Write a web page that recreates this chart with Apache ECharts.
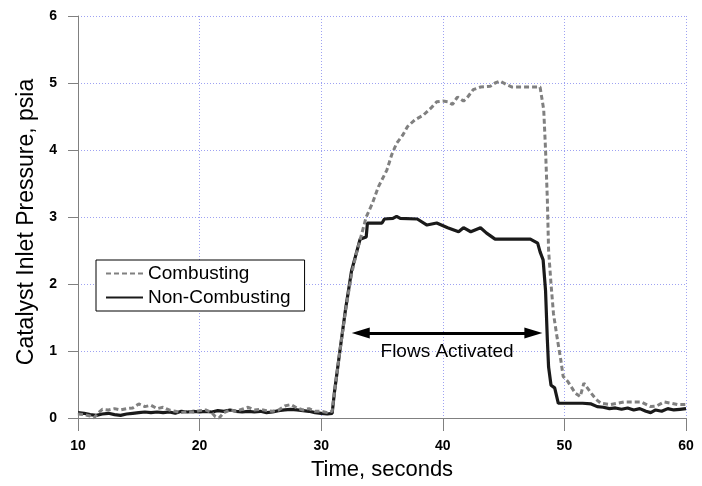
<!DOCTYPE html>
<html>
<head>
<meta charset="utf-8">
<script src="https://cdn.jsdelivr.net/npm/echarts@6/dist/echarts.min.js"></script>
<style>
html,body{margin:0;padding:0;background:#fff;}
#c{width:702px;height:486px;}
</style>
</head>
<body>
<div id="c"></div>
<script>
// ---- data ----
const xTicks = [10, 20, 30, 40, 50, 60];
const yTicks = [0, 1, 2, 3, 4, 5, 6];
const seriesNames = ['Combusting', 'Non-Combusting'];

const combTime = [10, 10.5, 11, 11.3, 11.7, 12, 12.5, 13, 13.5, 14, 14.5, 15, 15.5, 16, 16.5, 17, 17.5, 18, 18.5, 19, 19.5, 20, 20.5, 21, 21.3, 21.6, 22, 22.5, 23, 23.5, 24, 24.5, 25, 25.5, 26, 26.5, 27, 27.5, 28, 28.5, 29, 29.5, 30, 30.5, 30.9,
  31.1, 31.5, 32.0, 32.5, 32.9, 33.2, 33.7, 34.2, 34.7, 35.4, 35.8, 36.2, 36.7, 37.1, 37.7, 38.4, 39.1, 39.5, 40.0, 40.4, 40.8, 41.2, 41.7, 42.0, 42.5, 43.1, 43.9, 44.3, 44.7, 45.3, 45.7, 46.5, 47.3, 48.0,
  48.3, 48.45, 48.6, 48.7, 48.9, 49.1, 49.4, 49.7, 49.9, 50.3, 50.9, 51.3, 51.6, 52.2, 52.6, 53.0, 53.8, 54.9, 55.5, 56.3, 57.1, 57.6, 58.2, 58.8, 59.3, 60];
const combVals = [0.06, 0.05, 0.03, 0.0, 0.08, 0.13, 0.12, 0.14, 0.12, 0.14, 0.15, 0.21, 0.17, 0.19, 0.14, 0.16, 0.12, 0.1, 0.08, 0.1, 0.09, 0.11, 0.12, 0.08, 0.02, 0.0, 0.08, 0.12, 0.1, 0.13, 0.16, 0.12, 0.13, 0.11, 0.1, 0.12, 0.18, 0.2, 0.15, 0.12, 0.14, 0.1, 0.1, 0.08, 0.1,
  0.4, 0.95, 1.6, 2.15, 2.46, 2.66, 3.0, 3.2, 3.45, 3.7, 3.93, 4.1, 4.22, 4.35, 4.45, 4.52, 4.64, 4.72, 4.73, 4.72, 4.68, 4.79, 4.73, 4.78, 4.9, 4.94, 4.95, 5.0, 5.03, 4.97, 4.94, 4.94, 4.94, 4.94,
  4.6, 4.0, 3.25, 2.5, 2.0, 1.56, 1.2, 0.87, 0.62, 0.54, 0.37, 0.32, 0.52, 0.37, 0.28, 0.22, 0.2, 0.24, 0.24, 0.24, 0.17, 0.18, 0.24, 0.22, 0.2, 0.2];

const nonTime = [10, 10.5, 11, 11.5, 12, 12.5, 13, 13.5, 14, 14.5, 15, 15.5, 16, 16.5, 17, 17.5, 18, 18.5, 19, 19.5, 20, 20.5, 21, 21.5, 22, 22.5, 23, 23.5, 24, 24.5, 25, 25.5, 26, 26.5, 27, 27.5, 28, 28.5, 29, 29.5, 30, 30.5, 30.9,
  31.1, 31.5, 32.0, 32.5, 32.8, 33.2, 33.7, 33.8, 35.0, 35.2, 35.9, 36.2, 36.5, 37.9, 38.7, 39.5, 40.4, 41.3, 41.7, 42.3, 43.1, 43.6, 44.3, 45.5, 46.5, 47.2, 47.8, 48.0, 48.25,
  48.45, 48.6, 48.7, 48.9, 49.2, 49.5, 50.5, 51.5, 52.2, 52.7, 53.2, 53.7, 54.2, 54.7, 55.2, 55.7, 56.2, 56.7, 57.1, 57.5, 58.0, 58.5, 59.0, 59.5, 60];
const nonVals = [0.08, 0.07, 0.05, 0.04, 0.06, 0.07, 0.05, 0.04, 0.06, 0.07, 0.08, 0.09, 0.08, 0.09, 0.08, 0.09, 0.07, 0.1, 0.09, 0.1, 0.09, 0.1, 0.09, 0.11, 0.1, 0.12, 0.1, 0.09, 0.1, 0.09, 0.1, 0.08, 0.09, 0.11, 0.12, 0.13, 0.12, 0.11, 0.1, 0.08, 0.07, 0.06, 0.07,
  0.4, 0.95, 1.62, 2.2, 2.4, 2.67, 2.7, 2.91, 2.91, 2.97, 2.98, 3.01, 2.98, 2.97, 2.88, 2.91, 2.84, 2.78, 2.84, 2.78, 2.84, 2.76, 2.67, 2.67, 2.67, 2.67, 2.61, 2.48, 2.36,
  1.9, 1.16, 0.76, 0.49, 0.45, 0.22, 0.22, 0.22, 0.21, 0.17, 0.16, 0.14, 0.15, 0.13, 0.15, 0.12, 0.14, 0.1, 0.08, 0.12, 0.1, 0.14, 0.12, 0.13, 0.14];

const annotationText = 'Flows Activated';
const annotationStart = [33.25, 1.27];
const annotationEnd = [47.45, 1.27];

// ---- chart ----
const FONT = 'Arial, "Liberation Sans", sans-serif';
const pairs = (xs, ys) => xs.map((x, i) => [x, ys[i]]);
const chart = echarts.init(document.getElementById('c'), null, {renderer: 'canvas'});
const gridLine = {show: true, lineStyle: {color: '#9ea2f2', type: [1, 2], width: 1}};

chart.setOption({
  animation: false,
  backgroundColor: '#fff',
  grid: {left: 78, right: 16, top: 16, bottom: 68},
  xAxis: {
    type: 'value', min: xTicks[0], max: xTicks[xTicks.length - 1], interval: xTicks[1] - xTicks[0],
    name: 'Time, seconds', nameLocation: 'middle', nameGap: 41,
    nameTextStyle: {fontFamily: FONT, fontSize: 22, color: '#000'},
    axisLine: {show: true, onZero: false, lineStyle: {color: '#808080', width: 1}},
    axisTick: {show: true, length: 13, lineStyle: {color: '#808080'}},
    axisLabel: {margin: 21, fontFamily: FONT, fontSize: 14, fontWeight: 'bold', color: '#000'},
    splitLine: gridLine
  },
  yAxis: {
    type: 'value', min: yTicks[0], max: yTicks[yTicks.length - 1], interval: yTicks[1] - yTicks[0],
    name: 'Catalyst Inlet Pressure, psia', nameLocation: 'middle', nameGap: 37,
    nameTextStyle: {fontFamily: FONT, fontSize: 23, color: '#000', padding: [0, 10, 0, 0]},
    axisLine: {show: true, onZero: false, lineStyle: {color: '#808080', width: 1}},
    axisTick: {show: true, length: 10, lineStyle: {color: '#808080'}},
    axisLabel: {margin: 21, fontFamily: FONT, fontSize: 14, fontWeight: 'bold', color: '#000'},
    splitLine: gridLine
  },
  legend: {
    orient: 'vertical', left: 96, top: 260,
    data: seriesNames,
    backgroundColor: '#fff', borderColor: '#000', borderWidth: 1,
    padding: [4, 14, 4, 9], itemGap: 5, itemWidth: 37, itemHeight: 14,
    itemStyle: {color: 'rgba(0,0,0,0)', borderColor: 'rgba(0,0,0,0)', borderWidth: 0, opacity: 0},
    textStyle: {fontFamily: FONT, fontSize: 19, color: '#000'}
  },
  series: [
    {
      name: seriesNames[0], type: 'line', symbol: 'none', data: pairs(combTime, combVals),
      lineStyle: {color: '#808080', width: 3, type: [5, 3]}, itemStyle: {color: '#808080'}, z: 3
    },
    {
      name: seriesNames[1], type: 'line', symbol: 'none', data: pairs(nonTime, nonVals),
      lineStyle: {color: '#1a1a1a', width: 3.2}, itemStyle: {color: '#1a1a1a'}, z: 2,
      markLine: {
        silent: true, animation: false,
        symbol: ['triangle', 'triangle'], symbolSize: [11, 18],
        lineStyle: {color: '#000', width: 3, type: 'solid'},
        label: {show: true, position: 'insideMiddleBottom', distance: 9, formatter: annotationText,
                fontFamily: FONT, fontSize: 19, color: '#000'},
        data: [[{coord: annotationStart}, {coord: annotationEnd}]]
      }
    }
  ]
});
</script>
</body>
</html>
